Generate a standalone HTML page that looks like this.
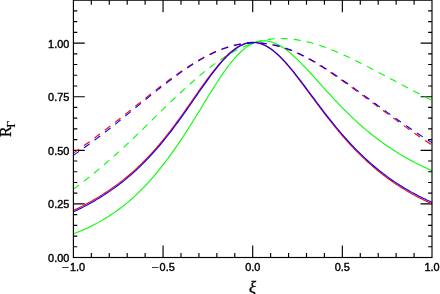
<!DOCTYPE html>
<html><head><meta charset="utf-8"><title>plot</title>
<style>html,body{margin:0;padding:0;background:#fff;}body{width:440px;height:294px;position:relative;overflow:hidden;font-family:"Liberation Sans",sans-serif;}</style></head>
<body>
<svg width="440" height="294" viewBox="0 0 440 294" style="position:absolute;left:0;top:0;will-change:transform">
<rect x="0" y="0" width="440" height="294" fill="#fff"/>
<g stroke="#000" stroke-width="1.15" fill="none">
<path d="M91.33,257.5v-4.5M91.33,0.2v4.5M109.26,257.5v-4.5M109.26,0.2v4.5M127.19,257.5v-4.5M127.19,0.2v4.5M145.12,257.5v-4.5M145.12,0.2v4.5M163.05,257.5v-12.0M163.05,0.2v12.0M180.98,257.5v-4.5M180.98,0.2v4.5M198.91,257.5v-4.5M198.91,0.2v4.5M216.84,257.5v-4.5M216.84,0.2v4.5M234.77,257.5v-4.5M234.77,0.2v4.5M252.70,257.5v-12.0M252.70,0.2v12.0M270.63,257.5v-4.5M270.63,0.2v4.5M288.56,257.5v-4.5M288.56,0.2v4.5M306.49,257.5v-4.5M306.49,0.2v4.5M324.42,257.5v-4.5M324.42,0.2v4.5M342.35,257.5v-12.0M342.35,0.2v12.0M360.28,257.5v-4.5M360.28,0.2v4.5M378.21,257.5v-4.5M378.21,0.2v4.5M396.14,257.5v-4.5M396.14,0.2v4.5M414.07,257.5v-4.5M414.07,0.2v4.5M73.4,246.78h3.9M432.0,246.78h-3.9M73.4,236.06h3.9M432.0,236.06h-3.9M73.4,225.34h3.9M432.0,225.34h-3.9M73.4,214.62h3.9M432.0,214.62h-3.9M73.4,203.90h11.4M432.0,203.90h-11.4M73.4,193.18h3.9M432.0,193.18h-3.9M73.4,182.46h3.9M432.0,182.46h-3.9M73.4,171.74h3.9M432.0,171.74h-3.9M73.4,161.02h3.9M432.0,161.02h-3.9M73.4,150.30h11.4M432.0,150.30h-11.4M73.4,139.58h3.9M432.0,139.58h-3.9M73.4,128.86h3.9M432.0,128.86h-3.9M73.4,118.14h3.9M432.0,118.14h-3.9M73.4,107.42h3.9M432.0,107.42h-3.9M73.4,96.70h11.4M432.0,96.70h-11.4M73.4,85.98h3.9M432.0,85.98h-3.9M73.4,75.26h3.9M432.0,75.26h-3.9M73.4,64.54h3.9M432.0,64.54h-3.9M73.4,53.82h3.9M432.0,53.82h-3.9M73.4,43.10h11.4M432.0,43.10h-11.4M73.4,32.38h3.9M432.0,32.38h-3.9M73.4,21.66h3.9M432.0,21.66h-3.9M73.4,10.94h3.9M432.0,10.94h-3.9"/>
</g>
<g fill="none" stroke-width="1.1" stroke-linejoin="round">
<path d="M73.30,233.98 L75.09,233.29 L76.89,232.58 L78.68,231.85 L80.48,231.10 L82.27,230.33 L84.06,229.54 L85.86,228.73 L87.65,227.89 L89.45,227.03 L91.24,226.15 L93.03,225.25 L94.83,224.32 L96.62,223.37 L98.42,222.39 L100.21,221.39 L102.00,220.36 L103.80,219.30 L105.59,218.22 L107.39,217.11 L109.18,215.97 L110.97,214.80 L112.77,213.60 L114.56,212.37 L116.36,211.11 L118.15,209.81 L119.94,208.49 L121.74,207.13 L123.53,205.73 L125.33,204.31 L127.12,202.84 L128.91,201.33 L130.71,199.79 L132.50,198.20 L134.30,196.57 L136.09,194.91 L137.88,193.20 L139.68,191.45 L141.47,189.66 L143.27,187.82 L145.06,185.95 L146.85,184.03 L148.65,182.08 L150.44,180.08 L152.24,178.03 L154.03,175.95 L155.82,173.83 L157.62,171.66 L159.41,169.45 L161.21,167.20 L163.00,164.92 L164.79,162.59 L166.59,160.22 L168.38,157.81 L170.18,155.37 L171.97,152.89 L173.76,150.37 L175.56,147.81 L177.35,145.21 L179.15,142.58 L180.94,139.91 L182.73,137.20 L184.53,134.46 L186.32,131.69 L188.12,128.88 L189.91,126.06 L191.70,123.20 L193.50,120.33 L195.29,117.44 L197.09,114.53 L198.88,111.61 L200.67,108.68 L202.47,105.75 L204.26,102.82 L206.06,99.90 L207.85,96.98 L209.64,94.08 L211.44,91.20 L213.23,88.34 L215.03,85.52 L216.82,82.73 L218.61,79.98 L220.41,77.29 L222.20,74.64 L224.00,72.06 L225.79,69.54 L227.58,67.10 L229.38,64.73 L231.17,62.45 L232.97,60.26 L234.76,58.16 L236.55,56.17 L238.35,54.28 L240.14,52.50 L241.94,50.84 L243.73,49.29 L245.52,47.87 L247.32,46.58 L249.11,45.41 L250.91,44.37 L252.70,43.47 L254.49,42.70 L256.29,42.07 L258.08,41.57 L259.88,41.20 L261.67,40.97 L263.46,40.87 L265.26,40.90 L267.05,41.05 L268.85,41.34 L270.64,41.74 L272.43,42.26 L274.23,42.90 L276.02,43.65 L277.82,44.51 L279.61,45.47 L281.40,46.53 L283.20,47.68 L284.99,48.92 L286.79,50.24 L288.58,51.64 L290.37,53.11 L292.17,54.65 L293.96,56.25 L295.76,57.91 L297.55,59.62 L299.34,61.38 L301.14,63.18 L302.93,65.02 L304.73,66.89 L306.52,68.79 L308.31,70.71 L310.11,72.66 L311.90,74.62 L313.70,76.60 L315.49,78.59 L317.28,80.58 L319.08,82.58 L320.87,84.57 L322.67,86.57 L324.46,88.56 L326.25,90.55 L328.05,92.52 L329.84,94.49 L331.64,96.44 L333.43,98.37 L335.22,100.30 L337.02,102.20 L338.81,104.08 L340.61,105.95 L342.40,107.79 L344.19,109.62 L345.99,111.41 L347.78,113.19 L349.58,114.94 L351.37,116.67 L353.16,118.37 L354.96,120.05 L356.75,121.70 L358.55,123.33 L360.34,124.93 L362.13,126.50 L363.93,128.05 L365.72,129.57 L367.52,131.06 L369.31,132.53 L371.10,133.98 L372.90,135.40 L374.69,136.80 L376.49,138.18 L378.28,139.53 L380.07,140.86 L381.87,142.17 L383.66,143.46 L385.46,144.73 L387.25,145.97 L389.04,147.19 L390.84,148.40 L392.63,149.58 L394.43,150.74 L396.22,151.88 L398.01,153.00 L399.81,154.10 L401.60,155.18 L403.40,156.24 L405.19,157.28 L406.98,158.30 L408.78,159.30 L410.57,160.29 L412.37,161.25 L414.16,162.20 L415.95,163.13 L417.75,164.04 L419.54,164.94 L421.34,165.81 L423.13,166.68 L424.92,167.52 L426.72,168.35 L428.51,169.16 L430.31,169.95 L432.10,170.73" stroke="#00ff00"/>
<path d="M73.30,189.21 L75.09,187.90 L76.89,186.57 L78.68,185.23 L80.48,183.87 L82.27,182.50 L84.06,181.12 L85.86,179.72 L87.65,178.31 L89.45,176.88 L91.24,175.45 L93.03,174.00 L94.83,172.53 L96.62,171.05 L98.42,169.56 L100.21,168.06 L102.00,166.55 L103.80,165.02 L105.59,163.48 L107.39,161.93 L109.18,160.36 L110.97,158.79 L112.77,157.20 L114.56,155.60 L116.36,153.99 L118.15,152.37 L119.94,150.74 L121.74,149.10 L123.53,147.45 L125.33,145.79 L127.12,144.12 L128.91,142.44 L130.71,140.75 L132.50,139.05 L134.30,137.35 L136.09,135.63 L137.88,133.91 L139.68,132.17 L141.47,130.44 L143.27,128.69 L145.06,126.95 L146.85,125.19 L148.65,123.44 L150.44,121.68 L152.24,119.92 L154.03,118.17 L155.82,116.41 L157.62,114.65 L159.41,112.90 L161.21,111.15 L163.00,109.40 L164.79,107.66 L166.59,105.92 L168.38,104.19 L170.18,102.46 L171.97,100.73 L173.76,99.02 L175.56,97.31 L177.35,95.61 L179.15,93.92 L180.94,92.24 L182.73,90.58 L184.53,88.93 L186.32,87.29 L188.12,85.67 L189.91,84.06 L191.70,82.48 L193.50,80.90 L195.29,79.35 L197.09,77.81 L198.88,76.29 L200.67,74.79 L202.47,73.31 L204.26,71.86 L206.06,70.42 L207.85,69.01 L209.64,67.62 L211.44,66.25 L213.23,64.91 L215.03,63.60 L216.82,62.31 L218.61,61.05 L220.41,59.82 L222.20,58.62 L224.00,57.44 L225.79,56.30 L227.58,55.19 L229.38,54.11 L231.17,53.06 L232.97,52.05 L234.76,51.07 L236.55,50.12 L238.35,49.20 L240.14,48.33 L241.94,47.48 L243.73,46.67 L245.52,45.90 L247.32,45.16 L249.11,44.46 L250.91,43.80 L252.70,43.17 L254.49,42.58 L256.29,42.04 L258.08,41.53 L259.88,41.07 L261.67,40.65 L263.46,40.26 L265.26,39.92 L267.05,39.62 L268.85,39.35 L270.64,39.13 L272.43,38.94 L274.23,38.79 L276.02,38.67 L277.82,38.59 L279.61,38.54 L281.40,38.53 L283.20,38.55 L284.99,38.60 L286.79,38.69 L288.58,38.80 L290.37,38.95 L292.17,39.13 L293.96,39.34 L295.76,39.59 L297.55,39.86 L299.34,40.17 L301.14,40.50 L302.93,40.86 L304.73,41.25 L306.52,41.67 L308.31,42.11 L310.11,42.58 L311.90,43.07 L313.70,43.58 L315.49,44.12 L317.28,44.68 L319.08,45.25 L320.87,45.85 L322.67,46.47 L324.46,47.10 L326.25,47.76 L328.05,48.43 L329.84,49.12 L331.64,49.83 L333.43,50.55 L335.22,51.29 L337.02,52.05 L338.81,52.82 L340.61,53.60 L342.40,54.40 L344.19,55.21 L345.99,56.03 L347.78,56.86 L349.58,57.71 L351.37,58.56 L353.16,59.43 L354.96,60.30 L356.75,61.18 L358.55,62.07 L360.34,62.97 L362.13,63.87 L363.93,64.78 L365.72,65.70 L367.52,66.62 L369.31,67.55 L371.10,68.48 L372.90,69.42 L374.69,70.35 L376.49,71.30 L378.28,72.24 L380.07,73.19 L381.87,74.14 L383.66,75.09 L385.46,76.04 L387.25,76.99 L389.04,77.94 L390.84,78.89 L392.63,79.85 L394.43,80.80 L396.22,81.75 L398.01,82.70 L399.81,83.65 L401.60,84.60 L403.40,85.55 L405.19,86.49 L406.98,87.44 L408.78,88.39 L410.57,89.33 L412.37,90.27 L414.16,91.20 L415.95,92.14 L417.75,93.07 L419.54,93.99 L421.34,94.92 L423.13,95.83 L424.92,96.75 L426.72,97.66 L428.51,98.56 L430.31,99.46 L432.10,100.35" stroke="#00ff00" stroke-dasharray="7.03 6.03"/>
<path d="M73.30,210.43 L75.09,209.60 L76.89,208.76 L78.68,207.90 L80.48,207.02 L82.27,206.13 L84.06,205.21 L85.86,204.28 L87.65,203.32 L89.45,202.35 L91.24,201.36 L93.03,200.34 L94.83,199.29 L96.62,198.22 L98.42,197.13 L100.21,196.01 L102.00,194.87 L103.80,193.72 L105.59,192.55 L107.39,191.37 L109.18,190.17 L110.97,188.96 L112.77,187.72 L114.56,186.45 L116.36,185.16 L118.15,183.83 L119.94,182.48 L121.74,181.09 L123.53,179.68 L125.33,178.24 L127.12,176.76 L128.91,175.25 L130.71,173.71 L132.50,172.14 L134.30,170.54 L136.09,168.90 L137.88,167.22 L139.68,165.51 L141.47,163.77 L143.27,161.99 L145.06,160.18 L146.85,158.33 L148.65,156.44 L150.44,154.52 L152.24,152.56 L154.03,150.56 L155.82,148.53 L157.62,146.46 L159.41,144.36 L161.21,142.22 L163.00,140.04 L164.79,137.83 L166.59,135.59 L168.38,133.31 L170.18,130.99 L171.97,128.65 L173.76,126.28 L175.56,123.87 L177.35,121.44 L179.15,118.98 L180.94,116.50 L182.73,114.00 L184.53,111.47 L186.32,108.93 L188.12,106.37 L189.91,103.80 L191.70,101.22 L193.50,98.64 L195.29,96.05 L197.09,93.47 L198.88,90.89 L200.67,88.35 L202.47,85.83 L204.26,83.33 L206.06,80.86 L207.85,78.41 L209.64,75.99 L211.44,73.62 L213.23,71.29 L215.03,69.01 L216.82,66.78 L218.61,64.62 L220.41,62.52 L222.20,60.50 L224.00,58.56 L225.79,56.70 L227.58,54.93 L229.38,53.26 L231.17,51.68 L232.97,50.22 L234.76,48.86 L236.55,47.63 L238.35,46.51 L240.14,45.52 L241.94,44.65 L243.73,43.92 L245.52,43.31 L247.32,42.84 L249.11,42.51 L250.91,42.31 L252.70,42.25 L254.49,42.32 L256.29,42.54 L258.08,42.88 L259.88,43.36 L261.67,43.98 L263.46,44.72 L265.26,45.58 L267.05,46.57 L268.85,47.68 L270.64,48.91 L272.43,50.24 L274.23,51.68 L276.02,53.22 L277.82,54.86 L279.61,56.59 L281.40,58.40 L283.20,60.29 L284.99,62.25 L286.79,64.29 L288.58,66.38 L290.37,68.54 L292.17,70.74 L293.96,72.99 L295.76,75.29 L297.55,77.61 L299.34,79.97 L301.14,82.36 L302.93,84.77 L304.73,87.19 L306.52,89.63 L308.31,92.04 L310.11,94.46 L311.90,96.88 L313.70,99.29 L315.49,101.71 L317.28,104.11 L319.08,106.51 L320.87,108.89 L322.67,111.25 L324.46,113.60 L326.25,115.93 L328.05,118.24 L329.84,120.52 L331.64,122.78 L333.43,125.02 L335.22,127.23 L337.02,129.41 L338.81,131.56 L340.61,133.68 L342.40,135.78 L344.19,137.84 L345.99,139.87 L347.78,141.87 L349.58,143.84 L351.37,145.77 L353.16,147.68 L354.96,149.55 L356.75,151.39 L358.55,153.20 L360.34,154.97 L362.13,156.72 L363.93,158.43 L365.72,160.11 L367.52,161.76 L369.31,163.38 L371.10,164.96 L372.90,166.52 L374.69,168.05 L376.49,169.55 L378.28,171.02 L380.07,172.46 L381.87,173.88 L383.66,175.26 L385.46,176.62 L387.25,177.95 L389.04,179.26 L390.84,180.54 L392.63,181.79 L394.43,183.02 L396.22,184.23 L398.01,185.41 L399.81,186.57 L401.60,187.70 L403.40,188.81 L405.19,189.90 L406.98,190.97 L408.78,192.02 L410.57,193.05 L412.37,194.05 L414.16,195.04 L415.95,196.01 L417.75,196.96 L419.54,197.89 L421.34,198.80 L423.13,199.69 L424.92,200.57 L426.72,201.43 L428.51,202.27 L430.31,203.10 L432.10,203.91" stroke="#ff0000"/>
<path d="M73.30,153.10 L75.09,151.87 L76.89,150.63 L78.68,149.38 L80.48,148.12 L82.27,146.85 L84.06,145.57 L85.86,144.28 L87.65,142.98 L89.45,141.68 L91.24,140.36 L93.03,139.04 L94.83,137.71 L96.62,136.37 L98.42,135.02 L100.21,133.67 L102.00,132.34 L103.80,131.00 L105.59,129.65 L107.39,128.29 L109.18,126.92 L110.97,125.55 L112.77,124.16 L114.56,122.77 L116.36,121.37 L118.15,119.96 L119.94,118.55 L121.74,117.13 L123.53,115.71 L125.33,114.28 L127.12,112.85 L128.91,111.42 L130.71,109.98 L132.50,108.55 L134.30,107.11 L136.09,105.68 L137.88,104.25 L139.68,102.82 L141.47,101.40 L143.27,99.97 L145.06,98.55 L146.85,97.12 L148.65,95.70 L150.44,94.29 L152.24,92.88 L154.03,91.47 L155.82,90.07 L157.62,88.67 L159.41,87.28 L161.21,85.90 L163.00,84.54 L164.79,83.18 L166.59,81.83 L168.38,80.49 L170.18,79.17 L171.97,77.85 L173.76,76.55 L175.56,75.26 L177.35,73.98 L179.15,72.72 L180.94,71.47 L182.73,70.24 L184.53,69.02 L186.32,67.83 L188.12,66.65 L189.91,65.49 L191.70,64.36 L193.50,63.24 L195.29,62.15 L197.09,61.08 L198.88,60.03 L200.67,59.01 L202.47,58.01 L204.26,57.03 L206.06,56.09 L207.85,55.17 L209.64,54.28 L211.44,53.41 L213.23,52.58 L215.03,51.78 L216.82,51.01 L218.61,50.27 L220.41,49.57 L222.20,48.89 L224.00,48.26 L225.79,47.65 L227.58,47.08 L229.38,46.54 L231.17,46.05 L232.97,45.58 L234.76,45.15 L236.55,44.76 L238.35,44.41 L240.14,44.09 L241.94,43.81 L243.73,43.57 L245.52,43.37 L247.32,43.20 L249.11,43.08 L250.91,42.99 L252.70,42.94 L254.49,42.92 L256.29,42.95 L258.08,43.01 L259.88,43.11 L261.67,43.25 L263.46,43.42 L265.26,43.64 L267.05,43.89 L268.85,44.17 L270.64,44.49 L272.43,44.85 L274.23,45.25 L276.02,45.67 L277.82,46.14 L279.61,46.64 L281.40,47.17 L283.20,47.73 L284.99,48.33 L286.79,48.95 L288.58,49.61 L290.37,50.30 L292.17,51.02 L293.96,51.77 L295.76,52.55 L297.55,53.36 L299.34,54.20 L301.14,55.07 L302.93,55.97 L304.73,56.90 L306.52,57.85 L308.31,58.82 L310.11,59.82 L311.90,60.85 L313.70,61.89 L315.49,62.96 L317.28,64.04 L319.08,65.15 L320.87,66.27 L322.67,67.41 L324.46,68.56 L326.25,69.73 L328.05,70.92 L329.84,72.11 L331.64,73.32 L333.43,74.54 L335.22,75.77 L337.02,77.01 L338.81,78.26 L340.61,79.51 L342.40,80.78 L344.19,82.05 L345.99,83.33 L347.78,84.62 L349.58,85.91 L351.37,87.21 L353.16,88.52 L354.96,89.83 L356.75,91.14 L358.55,92.46 L360.34,93.78 L362.13,95.11 L363.93,96.43 L365.72,97.76 L367.52,99.09 L369.31,100.42 L371.10,101.75 L372.90,103.08 L374.69,104.40 L376.49,105.73 L378.28,107.06 L380.07,108.38 L381.87,109.70 L383.66,111.02 L385.46,112.33 L387.25,113.64 L389.04,114.95 L390.84,116.25 L392.63,117.55 L394.43,118.84 L396.22,120.13 L398.01,121.44 L399.81,122.75 L401.60,124.05 L403.40,125.35 L405.19,126.64 L406.98,127.92 L408.78,129.20 L410.57,130.47 L412.37,131.73 L414.16,132.99 L415.95,134.24 L417.75,135.48 L419.54,136.71 L421.34,137.93 L423.13,139.15 L424.92,140.36 L426.72,141.56 L428.51,142.75 L430.31,143.94 L432.10,145.11" stroke="#ff0000" stroke-dasharray="6.975 5.98"/>
<path d="M73.30,211.84 L75.09,211.02 L76.89,210.17 L78.68,209.31 L80.48,208.44 L82.27,207.54 L84.06,206.62 L85.86,205.69 L87.65,204.74 L89.45,203.76 L91.24,202.77 L93.03,201.75 L94.83,200.70 L96.62,199.63 L98.42,198.54 L100.21,197.42 L102.00,196.29 L103.80,195.13 L105.59,193.96 L107.39,192.78 L109.18,191.59 L110.97,190.37 L112.77,189.13 L114.56,187.86 L116.36,186.57 L118.15,185.24 L119.94,183.89 L121.74,182.51 L123.53,181.09 L125.33,179.65 L127.12,178.17 L128.91,176.67 L130.71,175.13 L132.50,173.55 L134.30,171.95 L136.09,170.31 L137.88,168.63 L139.68,166.93 L141.47,165.18 L143.27,163.40 L145.06,161.59 L146.85,159.74 L148.65,157.85 L150.44,155.93 L152.24,153.97 L154.03,151.98 L155.82,149.94 L157.62,147.87 L159.41,145.77 L161.21,143.63 L163.00,141.45 L164.79,139.24 L166.59,137.00 L168.38,134.72 L170.18,132.41 L171.97,130.06 L173.76,127.69 L175.56,125.29 L177.35,122.85 L179.15,120.40 L180.94,117.91 L182.73,115.41 L184.53,112.89 L186.32,110.34 L188.12,107.79 L189.91,105.22 L191.70,102.64 L193.50,100.05 L195.29,97.46 L197.09,94.88 L198.88,92.30 L200.67,89.73 L202.47,87.17 L204.26,84.63 L206.06,82.12 L207.85,79.63 L209.64,77.18 L211.44,74.76 L213.23,72.39 L215.03,70.07 L216.82,67.81 L218.61,65.61 L220.41,63.47 L222.20,61.41 L224.00,59.43 L225.79,57.53 L227.58,55.73 L229.38,54.01 L231.17,52.40 L232.97,50.90 L234.76,49.51 L236.55,48.23 L238.35,47.07 L240.14,46.03 L241.94,45.13 L243.73,44.35 L245.52,43.70 L247.32,43.19 L249.11,42.81 L250.91,42.57 L252.70,42.46 L254.49,42.49 L256.29,42.66 L258.08,42.97 L259.88,43.41 L261.67,43.98 L263.46,44.67 L265.26,45.50 L267.05,46.45 L268.85,47.51 L270.64,48.69 L272.43,49.98 L274.23,51.38 L276.02,52.88 L277.82,54.47 L279.61,56.16 L281.40,57.93 L283.20,59.78 L284.99,61.70 L286.79,63.69 L288.58,65.74 L290.37,67.85 L292.17,70.01 L293.96,72.22 L295.76,74.47 L297.55,76.76 L299.34,79.08 L301.14,81.42 L302.93,83.78 L304.73,86.17 L306.52,88.56 L308.31,90.97 L310.11,93.38 L311.90,95.79 L313.70,98.20 L315.49,100.61 L317.28,103.00 L319.08,105.39 L320.87,107.77 L322.67,110.13 L324.46,112.47 L326.25,114.79 L328.05,117.09 L329.84,119.37 L331.64,121.63 L333.43,123.86 L335.22,126.06 L337.02,128.24 L338.81,130.38 L340.61,132.50 L342.40,134.58 L344.19,136.64 L345.99,138.67 L347.78,140.66 L349.58,142.62 L351.37,144.55 L353.16,146.45 L354.96,148.31 L356.75,150.15 L358.55,151.95 L360.34,153.72 L362.13,155.46 L363.93,157.16 L365.72,158.84 L367.52,160.48 L369.31,162.09 L371.10,163.67 L372.90,165.23 L374.69,166.75 L376.49,168.24 L378.28,169.71 L380.07,171.14 L381.87,172.55 L383.66,173.93 L385.46,175.28 L387.25,176.61 L389.04,177.91 L390.84,179.18 L392.63,180.43 L394.43,181.65 L396.22,182.85 L398.01,184.03 L399.81,185.18 L401.60,186.31 L403.40,187.41 L405.19,188.50 L406.98,189.56 L408.78,190.60 L410.57,191.62 L412.37,192.62 L414.16,193.60 L415.95,194.57 L417.75,195.51 L419.54,196.43 L421.34,197.34 L423.13,198.22 L424.92,199.09 L426.72,199.95 L428.51,200.78 L430.31,201.60 L432.10,202.41" stroke="#0000ff"/>
<path d="M73.30,155.35 L75.09,154.12 L76.89,152.87 L78.68,151.62 L80.48,150.36 L82.27,149.09 L84.06,147.81 L85.86,146.53 L87.65,145.23 L89.45,143.92 L91.24,142.61 L93.03,141.29 L94.83,139.96 L96.62,138.62 L98.42,137.27 L100.21,135.91 L102.00,134.55 L103.80,133.18 L105.59,131.80 L107.39,130.41 L109.18,129.01 L110.97,127.60 L112.77,126.19 L114.56,124.76 L116.36,123.33 L118.15,121.89 L119.94,120.44 L121.74,118.99 L123.53,117.54 L125.33,116.08 L127.12,114.61 L128.91,113.15 L130.71,111.68 L132.50,110.22 L134.30,108.75 L136.09,107.28 L137.88,105.82 L139.68,104.36 L141.47,102.90 L143.27,101.45 L145.06,99.99 L146.85,98.54 L148.65,97.08 L150.44,95.64 L152.24,94.19 L154.03,92.76 L155.82,91.33 L157.62,89.90 L159.41,88.49 L161.21,87.09 L163.00,85.69 L164.79,84.31 L166.59,82.94 L168.38,81.57 L170.18,80.22 L171.97,78.88 L173.76,77.55 L175.56,76.23 L177.35,74.93 L179.15,73.64 L180.94,72.37 L182.73,71.11 L184.53,69.87 L186.32,68.65 L188.12,67.45 L189.91,66.27 L191.70,65.10 L193.50,63.96 L195.29,62.84 L197.09,61.75 L198.88,60.68 L200.67,59.63 L202.47,58.61 L204.26,57.61 L206.06,56.64 L207.85,55.70 L209.64,54.79 L211.44,53.91 L213.23,53.05 L215.03,52.23 L216.82,51.44 L218.61,50.68 L220.41,49.95 L222.20,49.26 L224.00,48.60 L225.79,47.97 L227.58,47.38 L229.38,46.82 L231.17,46.30 L232.97,45.82 L234.76,45.37 L236.55,44.96 L238.35,44.58 L240.14,44.24 L241.94,43.94 L243.73,43.68 L245.52,43.46 L247.32,43.27 L249.11,43.12 L250.91,43.01 L252.70,42.94 L254.49,42.90 L256.29,42.90 L258.08,42.95 L259.88,43.02 L261.67,43.14 L263.46,43.30 L265.26,43.49 L267.05,43.71 L268.85,43.98 L270.64,44.28 L272.43,44.62 L274.23,44.99 L276.02,45.40 L277.82,45.84 L279.61,46.31 L281.40,46.82 L283.20,47.37 L284.99,47.94 L286.79,48.55 L288.58,49.19 L290.37,49.86 L292.17,50.56 L293.96,51.30 L295.76,52.06 L297.55,52.86 L299.34,53.69 L301.14,54.55 L302.93,55.43 L304.73,56.34 L306.52,57.28 L308.31,58.24 L310.11,59.22 L311.90,60.23 L313.70,61.26 L315.49,62.31 L317.28,63.38 L319.08,64.47 L320.87,65.58 L322.67,66.71 L324.46,67.85 L326.25,69.00 L328.05,70.17 L329.84,71.36 L331.64,72.55 L333.43,73.76 L335.22,74.97 L337.02,76.20 L338.81,77.43 L340.61,78.67 L342.40,79.92 L344.19,81.18 L345.99,82.44 L347.78,83.71 L349.58,84.98 L351.37,86.27 L353.16,87.55 L354.96,88.85 L356.75,90.14 L358.55,91.44 L360.34,92.75 L362.13,94.05 L363.93,95.36 L365.72,96.67 L367.52,97.98 L369.31,99.29 L371.10,100.61 L372.90,101.92 L374.69,103.23 L376.49,104.54 L378.28,105.84 L380.07,107.15 L381.87,108.45 L383.66,109.75 L385.46,111.05 L387.25,112.34 L389.04,113.63 L390.84,114.91 L392.63,116.19 L394.43,117.47 L396.22,118.74 L398.01,120.01 L399.81,121.27 L401.60,122.52 L403.40,123.77 L405.19,125.01 L406.98,126.24 L408.78,127.47 L410.57,128.69 L412.37,129.91 L414.16,131.12 L415.95,132.32 L417.75,133.51 L419.54,134.69 L421.34,135.87 L423.13,137.04 L424.92,138.20 L426.72,139.35 L428.51,140.50 L430.31,141.63 L432.10,142.76" stroke="#0000ff" stroke-dasharray="7.03 6.03"/>
</g>
<rect x="73.4" y="0.2" width="358.6" height="257.3" stroke="#000" stroke-width="1.15" fill="none"/>
<g font-family="Liberation Sans, sans-serif" font-size="10.9px" fill="#000" stroke="#000" stroke-width="0.4">
<text x="69.3" y="261.90" text-anchor="end">0.00</text>
<text x="69.3" y="208.30" text-anchor="end">0.25</text>
<text x="69.3" y="154.70" text-anchor="end">0.50</text>
<text x="69.3" y="101.10" text-anchor="end">0.75</text>
<text x="69.3" y="47.50" text-anchor="end">1.00</text>
<text y="270.8"><tspan x="61.62" textLength="7.65" lengthAdjust="spacingAndGlyphs" stroke-width="0.1">−</tspan><tspan x="69.97">1.0</tspan></text>
<text y="270.8"><tspan x="151.27" textLength="7.65" lengthAdjust="spacingAndGlyphs" stroke-width="0.1">−</tspan><tspan x="159.62">0.5</tspan></text>
<text x="252.70" y="270.8" text-anchor="middle">0.0</text>
<text x="342.35" y="270.8" text-anchor="middle">0.5</text>
<text x="432.00" y="270.8" text-anchor="middle">1.0</text>
</g>
<g font-family="Liberation Serif, serif" fill="#000" stroke="#000" stroke-width="0.3">
<text x="248.9" y="293.0" font-size="16.5px" font-style="italic">ξ</text>
<g transform="translate(11.0,137.1) rotate(-90)"><text x="0" y="0" font-size="16px">R<tspan font-size="11.6px" dy="3.8" dx="-1.0" stroke-width="0.15">Γ</tspan></text></g>
</g>
</svg>
</body></html>
